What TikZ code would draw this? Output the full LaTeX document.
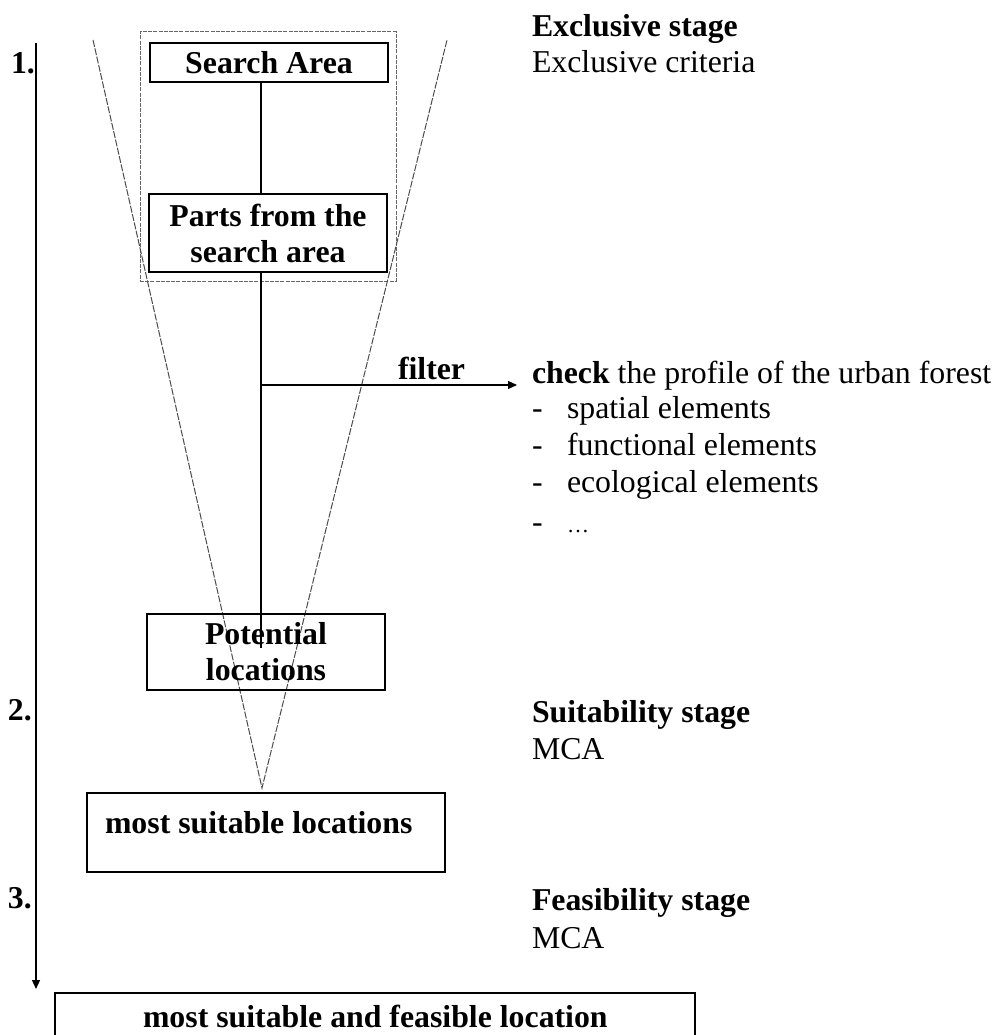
\documentclass[tikz,border=0pt]{standalone}
\usepackage{fontspec}
\setmainfont{Liberation Serif}
\usetikzlibrary{arrows.meta}
\begin{document}
\begin{tikzpicture}[x=1pt,y=-1pt,
  every node/.style={font=\fontsize{31.8}{36}\selectfont, inner sep=0pt, outer sep=0pt},
  box/.style={draw, line width=1.3pt, align=center, font=\bfseries\fontsize{31.8}{36}\selectfont},
  frame/.style={draw=black!60, line width=1pt, dash pattern=on 4pt off 1.2pt},
  vline/.style={draw=black!70, line width=1pt, dash pattern=on 7pt off 1.5pt},
  conn/.style={draw, line width=1.2pt},
  arr/.style={draw, line width=1.2pt, -{Triangle[length=9pt,width=8pt]}},
  txt/.style={anchor=base west},
  btxt/.style={anchor=base west, font=\bfseries\fontsize{31.8}{36}\selectfont}]
\useasboundingbox (0,0) rectangle (1001,1035);
\clip (0,0) rectangle (1001,1035);
\fill[white] (0,0) rectangle (1001,1035);

% outer dotted frame of stage 1
\node[frame, minimum width=256pt, minimum height=249pt] (stage) at (268,156.5) {};

% funnel
\coordinate (vl) at (93,40);
\coordinate (vr) at (447,40);
\coordinate (vtip) at (262,788);
\draw[vline] (vl) -- (vtip) -- (vr);

% boxes
\node[box, fill=white, minimum width=238pt, minimum height=39pt] (sa) at (269,62.5) {Search Area};
\node[box, fill=white, minimum width=238pt, minimum height=78pt] (parts) at (268,233) {Parts from the\\search area};
\node[box, minimum width=238pt, minimum height=76pt] (pot) at (266,652) {Potential\\locations};
\node[box, minimum width=358pt, minimum height=79pt] (msl) at (266,832.5) {};
\node[btxt] (msltxt) at (105,833) {most suitable locations};
\node[box, minimum width=640pt, minimum height=80pt] (final) at (375,1033) {};
\node[btxt] (finaltxt) at (143,1027) {most suitable and feasible location};

% spine connectors
\coordinate (spine) at (261,0);
\coordinate (fork) at (261,385);
\coordinate (ftip) at (517,385);
\coordinate (potin) at (261,648);
\draw[conn] (sa.south -| spine) -- (parts.north -| spine);
\draw[conn] (parts.south -| spine) -- (potin);
\draw[arr] (fork) -- (ftip);
\node[btxt] (filter) at (398,379) {filter};

% left stage arrow
\coordinate (atop) at (36,43);
\coordinate (abot) at (36,989);
\draw[arr] (atop) -- (abot);
\node[btxt] (n1) at (11,74) {1.};
\node[btxt] (n2) at (8,720) {2.};
\node[btxt] (n3) at (8,908) {3.};

% right-hand texts
\node[btxt] (ex1) at (532,37) {Exclusive stage};
\node[txt] (ex2) at (532,73) {Exclusive criteria};
\node[txt] (chk) at (532,383) {\textbf{check} the profile of the urban forest};
\node[txt] (d1) at (532,418) {-};
\node[txt] (l1) at (567,418) {spatial elements};
\node[txt] (d2) at (532,455) {-};
\node[txt] (l2) at (567,455) {functional elements};
\node[txt] (d3) at (532,492) {-};
\node[txt] (l3) at (567,492) {ecological elements};
\node[txt] (d4) at (532,532) {-};
\node[txt, font=\fontsize{22}{26}\selectfont] (l4) at (567,532) {\ldots};
\node[btxt] (su1) at (532,722) {Suitability stage};
\node[txt] (su2) at (532,759) {MCA};
\node[btxt] (fe1) at (532,910) {Feasibility stage};
\node[txt] (fe2) at (532,948) {MCA};
\end{tikzpicture}
\end{document}
